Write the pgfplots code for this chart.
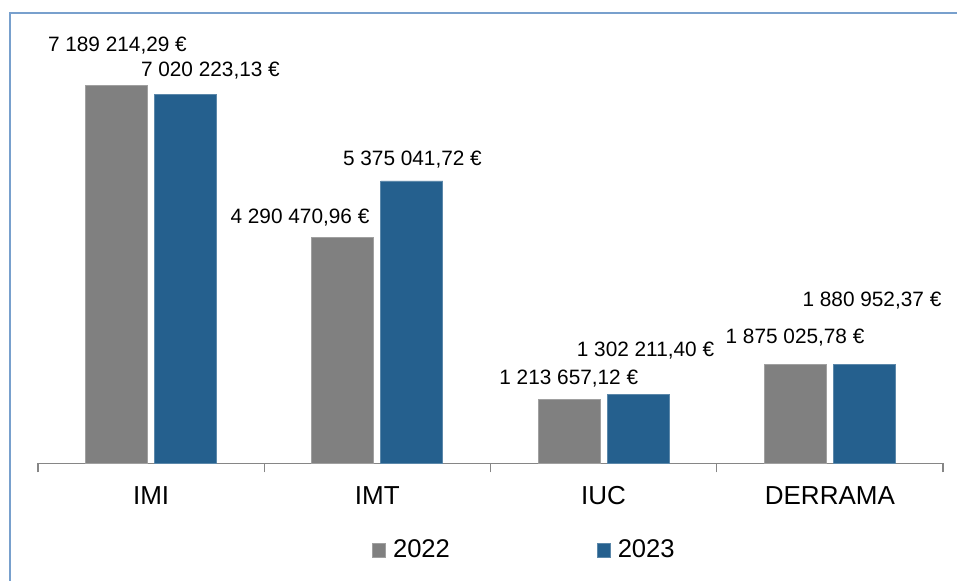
\documentclass[border=0pt]{standalone}
\usepackage{fontspec}
\setmainfont{Liberation Sans}
\usepackage{pgfplots}
\pgfplotsset{compat=1.18}

\definecolor{bargray}{RGB}{128,128,128}
\definecolor{barblue}{RGB}{37,96,142}
\definecolor{framblue}{RGB}{120,160,205}
\definecolor{axgray}{RGB}{134,134,134}

\begin{document}
\begin{tikzpicture}
\useasboundingbox (0,0) rectangle (717.75pt,435.75pt);
\draw[framblue, line width=1.5pt] (7.5pt,-2pt) -- (7.5pt,426pt) -- (720pt,426pt);
\begin{axis}[
    at={(28.5pt,88.3pt)}, anchor=south west,
    scale only axis,
    width=678.75pt, height=300pt,
    ybar=5.25pt, bar width=46.5pt,
    xmin=-0.5, xmax=3.5,
    ymin=0, ymax=7615000,
    axis x line*=bottom,
    axis y line=none,
    x axis line style={draw=axgray, line width=1pt},
    xtick={0,1,2,3},
    xticklabels={IMI,IMT,IUC,DERRAMA},
    major tick length=0pt,
    xticklabel style={anchor=base, yshift=-31.3pt, font=\fontsize{19.5}{23}\selectfont},
    extra x ticks={-0.5,0.5,1.5,2.5,3.5},
    extra x tick labels={},
    extra x tick style={major tick length=6.75pt, tick align=outside,
        tick style={draw=axgray, line width=1pt}},
    clip=false,
    legend columns=2,
    legend style={at={(rel axis cs:0.369,-0.2168)}, anchor=west,
        draw=none, fill=none, inner sep=0pt,
        font=\fontsize{19.2}{23}\selectfont,
        nodes={inner xsep=0pt},
        /tikz/every odd column/.append style={column sep=5.25pt},
        /tikz/every even column/.append style={column sep=110.25pt}},
    legend image code/.code={\fill[#1] (0pt,-5.25pt) rectangle (9.75pt,5.25pt);},
]
\addplot[fill=bargray, draw=bargray!75!white, line width=0.6pt]
    coordinates {(0,7189214.29) (1,4290470.96) (2,1213657.12) (3,1875025.78)};
\addplot[fill=barblue, draw=barblue!75!white, line width=0.6pt]
    coordinates {(0,7020223.13) (1,5375041.72) (2,1302211.40) (3,1880952.37)};
\legend{2022,2023}

\begin{scope}[every node/.style={anchor=base, inner sep=0pt, font=\fontsize{15.6}{18}\selectfont}]
\node at (axis cs:-0.149,7836000) {7 189 214,29 €};
\node at (axis cs:0.262,7360000) {7 020 223,13 €};
\node at (axis cs:0.658,4569000) {4 290 470,96 €};
\node at (axis cs:1.155,5665000) {5 375 041,72 €};
\node at (axis cs:1.846,1491000) {1 213 657,12 €};
\node at (axis cs:2.185,2029000) {1 302 211,40 €};
\node at (axis cs:2.846,2271000) {1 875 025,78 €};
\node at (axis cs:3.186,2975000) {1 880 952,37 €};
\end{scope}
\end{axis}
\end{tikzpicture}
\end{document}
